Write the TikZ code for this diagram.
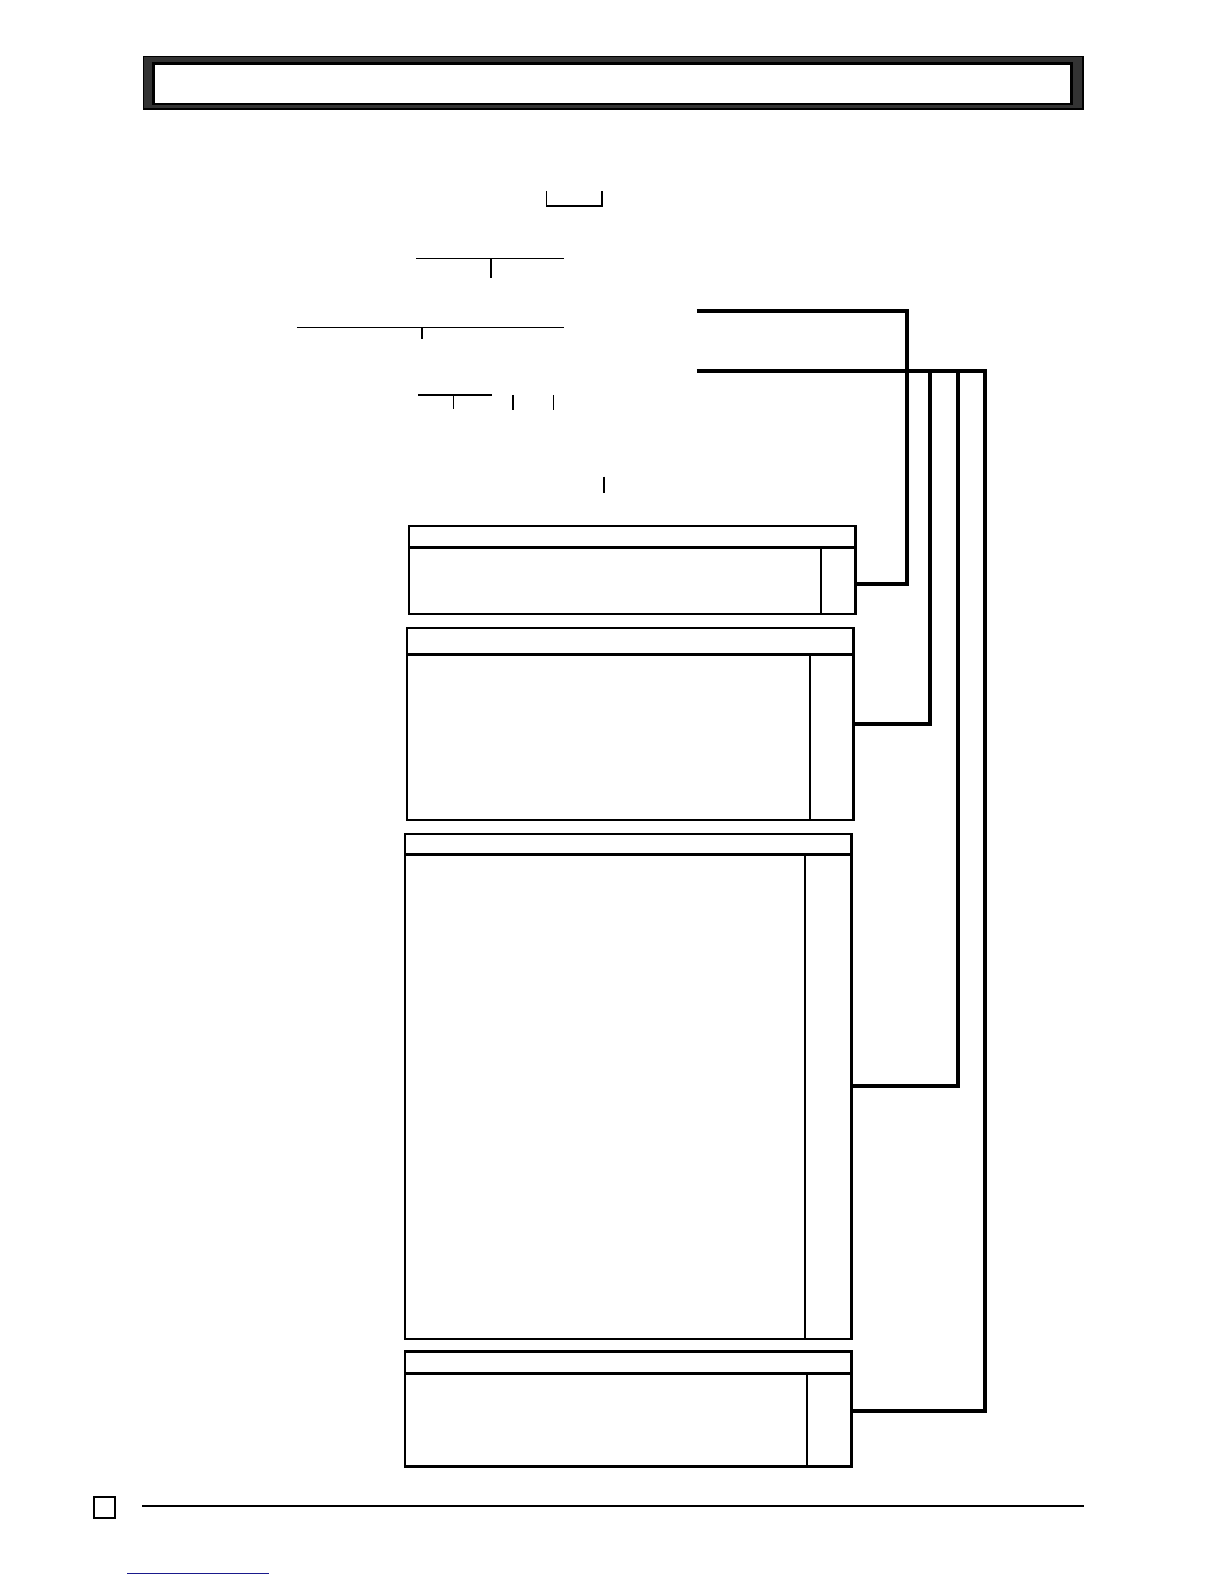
\documentclass[tikz,border=0pt]{standalone}
\usepackage{xcolor}
\usetikzlibrary{calc}
\def\U{0.505pt}
\definecolor{bandgray}{HTML}{333333}
\definecolor{linkblue}{HTML}{1A1A8C}

\begin{document}
\begin{tikzpicture}
    [x=\U, y=-\U,
 band/.style ={rectangle, draw=black, line width=0.8pt, fill=bandgray, inner sep=0pt, outer sep=0pt},
 bandin/.style ={rectangle, draw=black, line width=1.3pt, fill=white, inner sep=0pt, outer sep=0pt},
 tabbox/.style ={rectangle, draw=black, line width=1.2pt, minimum width=442*\U, inner sep=0pt, outer sep=0pt},
 rule/.style ={draw, line width=1.2pt},
 lead/.style ={draw, line width=0.7pt},
 bus/.style ={draw, line width=2pt, line join=miter}]
        \useasboundingbox (0,0) rectangle (1211.9,1568.3);
        \node[band, minimum width=930*\U, minimum height=52*\U] (titleband) at (607,82) {};
        \node[bandin, minimum width=909*\U, minimum height=40*\U] (titlebox) at (606.5,83) {};

        \draw[lead] (541,189) -- (541,204) -- (596,204) -- (596,189);
        \draw[lead] (412,256) -- (558,256) (486,256) -- (486,275);
        \draw[lead] (294,324) -- (558,324) (418,324) -- (418,336);
        \draw[lead] (414,391) -- (487,391) (449,391) -- (449,405) (508,391) -- (508,406) (548,391) -- (548,406);
        \draw[lead] (598,472) -- (598,488);

        \node[tabbox, minimum height=87*\U] (boxA) at (626,564.5) {};
        \draw[rule] ($(boxA.north west)+(0,21)$) -- ($(boxA.north east)+(0,21)$);
        \draw[rule] ($(boxA.north east)+(-34,21)$) -- ($(boxA.south east)+(-34,0)$);
        \node[tabbox, minimum height=190*\U] (boxB) at (624,717) {};
        \draw[rule] ($(boxB.north west)+(0,26)$) -- ($(boxB.north east)+(0,26)$);
        \draw[rule] ($(boxB.north east)+(-43,26)$) -- ($(boxB.south east)+(-43,0)$);
        \node[tabbox, minimum height=500*\U] (boxC) at (622,1076) {};
        \draw[rule] ($(boxC.north west)+(0,20)$) -- ($(boxC.north east)+(0,20)$);
        \draw[rule] ($(boxC.north east)+(-46,20)$) -- ($(boxC.south east)+(-46,0)$);
        \node[tabbox, minimum height=114*\U] (boxD) at (622,1395) {};
        \draw[rule] ($(boxD.north west)+(0,22)$) -- ($(boxD.north east)+(0,22)$);
        \draw[rule] ($(boxD.north east)+(-44,22)$) -- ($(boxD.south east)+(-44,0)$);

        \coordinate (feedA) at (690,308);
        \coordinate (feedB) at (690,367);
        \coordinate (railA) at (898,578);
        \coordinate (railB) at (921,717);
        \coordinate (railC) at (948,1075);
        \coordinate (railD) at (975,1397);
        \draw[bus] (feedA) -| (railA) -- (railA -| boxA.east);
        \draw[bus] (feedB) -| (railD) -- (railD -| boxD.east);
        \draw[bus] (railB |- feedB) -- (railB) -- (railB -| boxB.east);
        \draw[bus] (railC |- feedB) -- (railC) -- (railC -| boxC.east);

        \node[draw, line width=0.8pt, minimum size=21*\U, inner sep=0pt] (pagebox) at (103.5,1492.5) {};
        \draw[line width=0.6pt] (141,1491) -- (1073,1491);
        \draw[linkblue, line width=0.6pt] (126,1558) -- (266,1558);
    \end{tikzpicture}
\end{document}
